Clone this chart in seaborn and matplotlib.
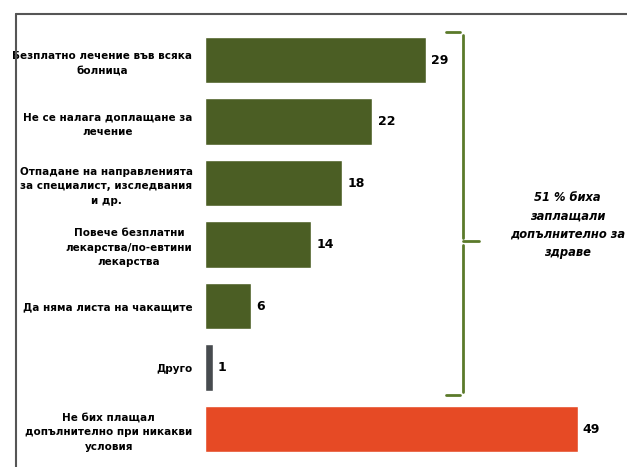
import matplotlib
matplotlib.use("Agg")
from matplotlib import pyplot as plt
from matplotlib.lines import Line2D
import seaborn as sns
import pandas as pd

# data
categories = [
    "Безплатно лечение във всяка\nболница",
    "Не се налага доплащане за\nлечение",
    "Отпадане на направленията\nза специалист, изследвания\nи др.",
    "Повече безплатни\nлекарства/по-евтини\nлекарства",
    "Да няма листа на чакащите",
    "Друго",
    "Не бих плащал\nдопълнително при никакви\nусловия",
]
values = [29, 22, 18, 14, 6, 1, 49]
bar_colors = ["#4b5e24", "#4b5e24", "#4b5e24", "#4b5e24", "#4b5e24", "#474b4f", "#e64a25"]
bracket_text = "51 % биха\nзаплащали\nдопълнително за\nздраве"

sns.set_style("white")
plt.rcParams["font.family"] = ["DejaVu Sans"]

df = pd.DataFrame({"cat": categories, "val": values})

fig = plt.figure(figsize=(6.27, 4.67), dpi=100)
ax = fig.add_axes([205 / 627, 1 - 459.75 / 467, 1 - 205 / 627, 430.5 / 467])

sns.barplot(data=df, x="val", y="cat", hue="cat", palette=bar_colors,
            legend=False, width=0.75, saturation=1, ax=ax)

ax.set_xlim(0, 55.5)
ax.set_ylim(6.5, -0.5)
ax.set_xlabel("")
ax.set_ylabel("")
ax.set_xticks([])
for s in ax.spines.values():
    s.set_visible(False)
ax.tick_params(axis="y", length=0, pad=9, labelcolor="black")
for lbl in ax.get_yticklabels():
    lbl.set_fontsize(7.5)
    lbl.set_fontweight("bold")
    lbl.set_horizontalalignment("right")
    lbl.set_multialignment("center")
    lbl.set_linespacing(1.55)

for i, v in enumerate(values):
    ax.text(v + 0.7, i, str(v), va="center", ha="left",
            fontsize=9, fontweight="bold", color="black")

# curly bracket around the first six bars
top, bottom, tip = -0.45, 5.45, 2.95
xb = 33.9
gc = "#5b7a2a"
ax.plot([xb - 2.2, xb - 0.3], [top, top], color=gc, lw=2, clip_on=False)
ax.plot([xb, xb], [top + 0.05, tip - 0.05], color=gc, lw=2, clip_on=False)
ax.plot([xb, xb], [tip + 0.05, bottom - 0.05], color=gc, lw=2, clip_on=False)
ax.plot([xb - 2.2, xb - 0.3], [bottom, bottom], color=gc, lw=2, clip_on=False)
ax.plot([xb, xb + 2.1], [tip, tip], color=gc, lw=2, clip_on=False)

ax.text(47.7, 2.68, bracket_text, ha="center", va="center", fontsize=8.3,
        fontweight="bold", fontstyle="italic", linespacing=1.55, color="black")

# frame lines of the original slide
fig.add_artist(Line2D([16 / 627, 1], [1 - 14 / 467, 1 - 14 / 467],
                      color="#555555", lw=1.5, transform=fig.transFigure))
fig.add_artist(Line2D([16 / 627, 16 / 627], [0, 1 - 14 / 467],
                      color="#555555", lw=1.5, transform=fig.transFigure))

fig.savefig("out.png", dpi=100)
